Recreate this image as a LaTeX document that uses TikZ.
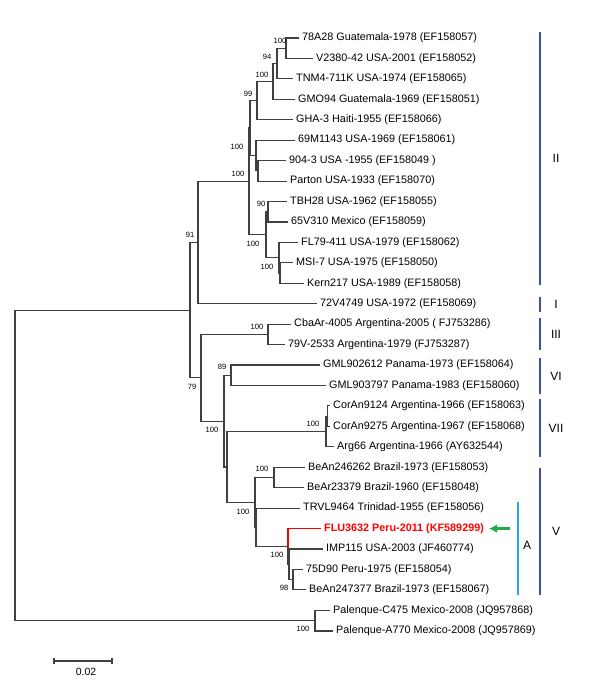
\documentclass[tikz,border=0pt]{standalone}
\usepackage{fontspec}
\setmainfont{Liberation Sans}
\usetikzlibrary{arrows.meta}

\definecolor{branchgray}{RGB}{64,64,64}
\definecolor{cladeblue}{RGB}{62,78,170}
\definecolor{subblue}{RGB}{40,168,224}
\definecolor{arrowgreen}{RGB}{34,170,72}

\tikzset{%
  >={Latex[length=8pt,width=9pt]},
  branch/.style={draw=branchgray, line width=1.1pt},
  leaf/.style={anchor=west, inner xsep=3pt, inner ysep=0pt, font=\fontsize{10.8}{12}\selectfont},
  boot/.style={inner sep=0pt, font=\fontsize{7.6}{9}\selectfont},
  cladebar/.style={draw=cladeblue, line width=1.5pt},
  cladelab/.style={inner sep=0pt, font=\fontsize{12}{14}\selectfont}
}

\begin{document}
\begin{tikzpicture}[x=1pt, y=-1pt]
     \useasboundingbox (0,0) rectangle (600,696);

     % taxa (tip x, row y)
     \foreach \n/\x/\y/\t in
       { l1/299/38/{78A28 Guatemala-1978 (EF158057)},
         l2/313/58.4/{V2380-42 USA-2001 (EF158052)},
         l3/293/78.9/{TNM4-711K USA-1974 (EF158065)},
         l4/295/99.3/{GMO94 Guatemala-1969 (EF158051)},
         l5/293/119.8/{GHA-3 Haiti-1955 (EF158066)},
         l6/295/140.2/{69M1143 USA-1969 (EF158061)},
         l7/286/160.6/{904-3 USA -1955 (EF158049 )},
         l8/287/181.1/{Parton USA-1933 (EF158070)},
         l9/287/201.5/{TBH28 USA-1962 (EF158055)},
         l10/288/222/{65V310 Mexico (EF158059)},
         l11/298/242.4/{FL79-411 USA-1979 (EF158062)},
         l12/293/262.8/{MSI-7 USA-1975 (EF158050)},
         l13/304/283.3/{Kern217 USA-1989 (EF158058)},
         l14/317/303.7/{72V4749 USA-1972 (EF158069)},
         l15/291/324.2/{CbaAr-4005 Argentina-2005 ( FJ753286)},
         l16/285/344.6/{79V-2533 Argentina-1979 (FJ753287)},
         l17/320/365/{GML902612 Panama-1973 (EF158064)},
         l18/326/385.5/{GML903797 Panama-1983 (EF158060)},
         l19/330/405.9/{CorAn9124 Argentina-1966 (EF158063)},
         l20/330/426.4/{CorAn9275 Argentina-1967 (EF158068)},
         l21/334/446.8/{Arg66 Argentina-1966 (AY632544)},
         l22/305/467.2/{BeAn246262 Brazil-1973 (EF158053)},
         l23/304/487.7/{BeAr23379 Brazil-1960 (EF158048)},
         l24/300/508.1/{TRVL9464 Trinidad-1955 (EF158056)},
         l26/323/549/{IMP115 USA-2003 (JF460774)},
         l27/303/569.4/{75D90 Peru-1975 (EF158054)},
         l28/306/589.9/{BeAn247377 Brazil-1973 (EF158067)},
         l29/330/610.5/{Palenque-C475 Mexico-2008 (JQ957868)},
         l30/333/631/{Palenque-A770 Mexico-2008 (JQ957869)}}
       \node[leaf] (\n) at (\x,\y) {\t};
     \node[leaf, text=red, font=\fontsize{10.8}{12}\selectfont\bfseries] (l25) at (321,528.6) {FLU3632 Peru-2011 (KF589299)};

     % internal nodes
     \foreach \n/\x/\y in
       { n1/286/48.2, n2/277/63.5, n3/273/81.4, n4/257/100.6,
         n5/258/170.9, n6/256/155.5, n7/250/128, n8/268/211.8,
         n9a/280/273, n9/279/257.7, n10/266/234.7, n11/249/181.4,
         n12/198/242.5, n13/268/334.4, n14/231/375.3, n15/327.5/416.2,
         n16/326/431.5, n17/274/477.5, n18/293/579.7, n19/289/564.3,
         n20/288/546.5, n21/256/527.3, n22/255/502.4, n23/227/467,
         n24/224/421.2, n25/201/377.8, n26/190/310.2, n27/315/620.8,
         root/15/465.5}
       \coordinate (\n) at (\x,\y);

     \foreach \p/\c in
       { n1/l1, n1/l2, n2/n1, n2/l3, n3/n2, n3/l4, n4/n3, n4/l5,
         n5/l7, n5/l8, n6/l6, n6/n5, n7/n4, n7/n6,
         n8/l9, n8/l10, n9a/l12, n9a/l13, n9/l11, n9/n9a,
         n10/n8, n10/n9, n11/n7, n11/n10, n12/n11, n12/l14,
         n13/l15, n13/l16, n14/l17, n14/l18, n15/l19, n15/l20,
         n16/n15, n16/l21, n17/l22, n17/l23, n18/l27, n18/l28,
         n19/l26, n19/n18, n20/n19, n21/l24, n21/n20,
         n22/n17, n22/n21, n23/n16, n23/n22, n24/n14, n24/n23,
         n25/n13, n25/n24, n26/n12, n26/n25, n27/l29, n27/l30,
         root/n26, root/n27}
       \draw[branch] (\p) |- (\c);
     \draw[branch, draw=red] (n20) |- (l25);

     % bootstrap values
     \foreach \x/\y/\b [count=\i] in
       { 280/41/100, 267/57/94, 262/75/100, 248/94/99, 237/147/100,
         238/174/100, 261/204/90, 253/244/100, 267/267/100, 190/235/91,
         257/327/100, 222/367/89, 192/387/79, 212/430/100, 313/424/100,
         262/469/100, 243/512/100, 277/555/100, 284/588/98, 303/629/100}
       \node[boot] (b\i) at (\x,\y) {\b};

     % genotype bars
     \foreach \n/\t/\b in
       { II/32/285, I/297/312, III/318/350, VI/358/394, VII/399/457, V/468/595}
     {
       \draw[cladebar] (540,\t) -- (540,\b);
       \node[cladelab] (g\n) at (556,{(\t+\b)/2}) {\n};
     }
     \draw[cladebar, draw=subblue] (518,502) -- (518,595);
     \node[cladelab] (gA) at (527,545) {A};

     \coordinate (tail) at (510,528.6);
     \draw[->, arrowgreen, line width=2.6pt, shorten >=2pt] (tail) -- (l25);

     % scale
     \coordinate (s0) at (54,661);
     \coordinate (s1) at (112,661);
     \draw[branch] (s0) -- (s1);
     \draw[branch] ([yshift=3pt]s0) -- ([yshift=-3pt]s0);
     \draw[branch] ([yshift=3pt]s1) -- ([yshift=-3pt]s1);
     \node[inner sep=0pt, font=\fontsize{10.5}{12}\selectfont] (sl) at (86,672) {0.02};

\end{tikzpicture}
\end{document}
